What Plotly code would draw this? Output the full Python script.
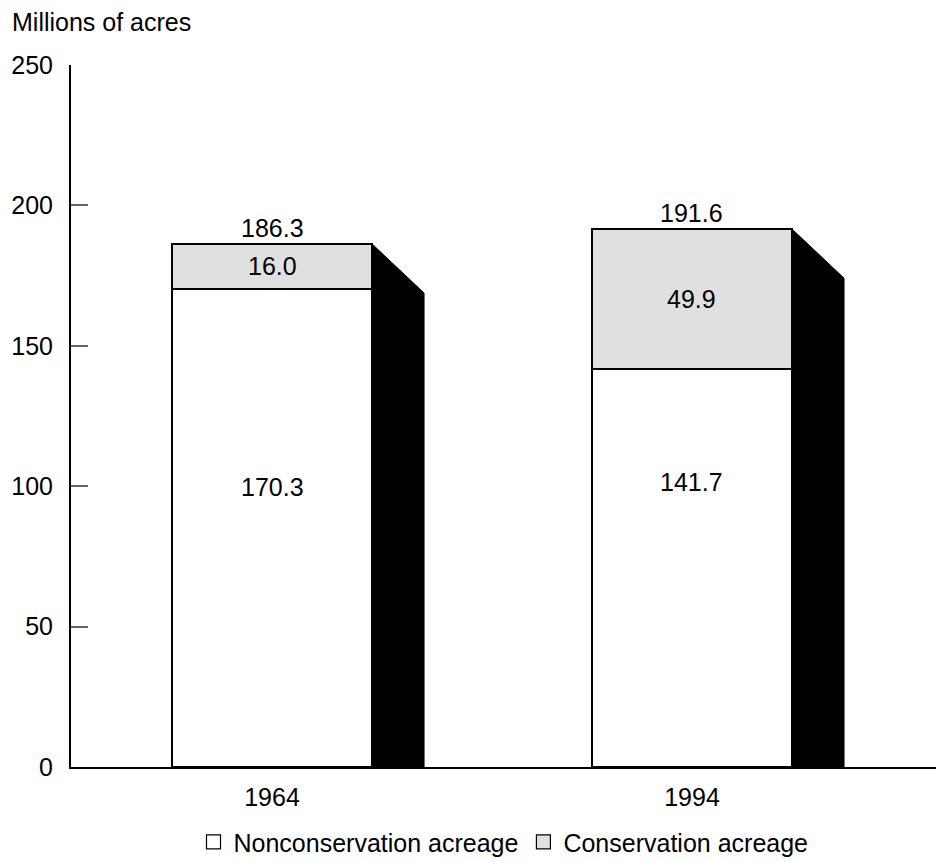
import plotly.graph_objects as go

# ---- data ----
years = ["1964", "1994"]
nonconservation = [170.3, 141.7]
conservation = [16.0, 49.9]
totals = [186.3, 191.6]
y_ticks = [0, 50, 100, 150, 200, 250]

# ---- layout constants ----
FONT = "Liberation Sans, Arial, sans-serif"
FS = 25
xpos = list(range(len(years)))
bar_w = 0.476
depth_x = 0.124
depth_y = 17.5
white_label_y = [99.8, 101.6]
COL_NON = "white"
COL_CON = "#e0e0e0"

fig = go.Figure()

# 3D black side of each bar
sx, sy = [], []
for i, t in zip(xpos, totals):
    r = i + bar_w / 2
    sx += [r, r + depth_x, r + depth_x, r, r, None]
    sy += [t, t - depth_y, 0, 0, t, None]
fig.add_trace(go.Scatter(x=sx, y=sy, fill="toself", fillcolor="black",
                         mode="lines", line=dict(color="black", width=1),
                         showlegend=False, hoverinfo="skip"))

fig.add_trace(go.Bar(x=xpos, y=nonconservation, width=bar_w,
                     name="Nonconservation acreage", showlegend=False,
                     marker=dict(color=COL_NON, line=dict(color="black", width=2))))
fig.add_trace(go.Bar(x=xpos, y=conservation, width=bar_w,
                     name="Conservation acreage", showlegend=False,
                     marker=dict(color=COL_CON, line=dict(color="black", width=2))))

# legend entries with larger square swatches
for name, col in [("Nonconservation acreage", COL_NON), ("Conservation acreage", COL_CON)]:
    fig.add_trace(go.Scatter(x=[None], y=[None], mode="markers", name=name,
                             marker=dict(symbol="square", size=14, color=col,
                                         line=dict(color="black", width=1.2)),
                             hoverinfo="skip"))

ann = []
for i in xpos:
    ann.append(dict(x=i, y=white_label_y[i], text=f"{nonconservation[i]:.1f}",
                    showarrow=False, font=dict(size=FS, color="black")))
    ann.append(dict(x=i, y=nonconservation[i] + conservation[i] / 2,
                    text=f"{conservation[i]:.1f}", showarrow=False,
                    font=dict(size=FS, color="black")))
    ann.append(dict(x=i, y=totals[i], yshift=16, text=f"{totals[i]:.1f}",
                    showarrow=False, font=dict(size=FS, color="black")))

fig.update_layout(
    width=936, height=861,
    margin=dict(l=71, r=0, t=65, b=94, pad=0, autoexpand=False),
    paper_bgcolor="white", plot_bgcolor="white",
    font=dict(family=FONT, size=FS, color="black"),
    barmode="stack",
    bargap=0,
    annotations=ann,
    title=dict(text="Millions of acres", x=12 / 936, xanchor="left",
               y=1 - 22 / 861, yanchor="middle", xref="container", yref="container",
               font=dict(size=FS, color="black")),
    legend=dict(orientation="h", x=0.5, xanchor="center", y=-0.107, yanchor="middle",
                font=dict(size=FS), traceorder="normal", itemclick=False),
    showlegend=True,
)
fig.update_xaxes(range=[-0.4786, 1.581], tickvals=xpos, ticktext=years,
                 showgrid=False, zeroline=False, showline=True, linecolor="black",
                 linewidth=2, ticks="", ticklabelstandoff=7, fixedrange=True)
fig.update_yaxes(range=[0, 250], tickvals=y_ticks, showgrid=False, zeroline=False,
                 showline=True, linecolor="black", linewidth=2, ticks="inside",
                 ticklen=17, tickwidth=1.5, tickcolor="#666666",
                 ticklabelstandoff=11, fixedrange=True)

fig.write_html("out.html", config={"displayModeBar": False},
               post_script="document.body.style.margin='0';document.body.style.overflow='hidden';")
